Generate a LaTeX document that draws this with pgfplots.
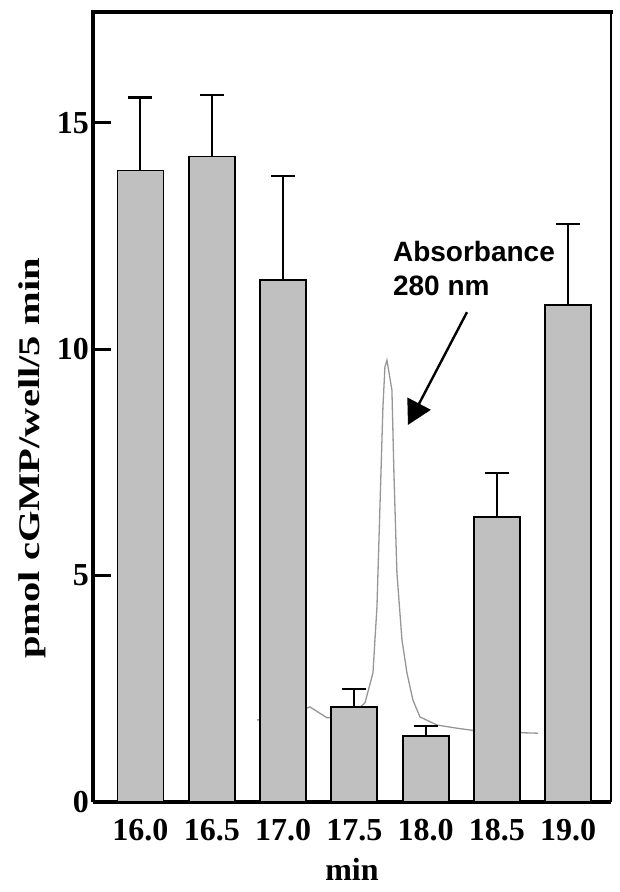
\documentclass[border=0pt]{standalone}
\usepackage{fontspec}
\setmainfont{Liberation Serif}
\newfontfamily\annotfont{Liberation Sans}
\usepackage{pgfplots}
\usepackage{pgfplotstable}
\pgfplotsset{compat=1.18}
\usetikzlibrary{arrows.meta}

\definecolor{barfill}{RGB}{192,192,192}
\definecolor{tracegray}{RGB}{150,150,150}

% cGMP per fraction (pos 0..6 = 16.0 .. 19.0 min), mean and upper error
\pgfplotstableread{
pos val  err
0   13.95 1.61
1   14.26 1.36
2   11.53 2.30
3   2.10  0.39
4   1.46  0.22
5   6.30  0.97
6   10.98 1.79
}\cgmpdata

% absorbance trace at 280 nm (arbitrary units on the same scale)
\pgfplotstableread{
x     y
1.634 1.81
2.000 1.90
2.377 2.10
2.616 1.86
2.940 1.90
3.149 2.19
3.261 2.85
3.317 4.31
3.359 6.52
3.401 8.73
3.429 9.61
3.457 9.76
3.527 9.10
3.555 7.27
3.597 5.06
3.668 3.58
3.738 2.85
3.822 2.25
3.920 1.88
4.159 1.70
4.439 1.63
4.719 1.57
5.100 1.54
5.575 1.52
}\absdata

\begin{document}
\begin{tikzpicture}
\begin{axis}[
  scale only axis,
  width=518pt, height=790pt,
  xmin=-0.666, xmax=6.6,
  ymin=0, ymax=17.45,
  clip=false,
  axis x line*=bottom, axis y line*=left,
  axis line style={line width=3.5pt, -},
  xtick={0,...,6},
  xticklabels={16.0,16.5,17.0,17.5,18.0,18.5,19.0},
  ytick={0,5,10,15},
  tick align=inside,
  major tick length=18pt,
  xtick style={draw=none},
  ytick style={line width=3pt, black},
  /pgf/number format/assume math mode=true,
  ticklabel style={font=\bfseries\fontsize{32}{32}\selectfont},
  yticklabel style={inner sep=1pt, xshift=-3pt},
  xticklabel style={inner sep=0pt, yshift=-17pt},
  xlabel={min},
  xlabel style={font=\bfseries\fontsize{32}{32}\selectfont, inner sep=0pt, yshift=-17pt},
  ylabel={\scalebox{1.35}[1]{pmol cGMP/well/5 min}},
  ylabel style={font=\bfseries\fontsize{30}{30}\selectfont,
    at={(axis description cs:-0.118,0.435)}, anchor=center, rotate=0},
]
  % trace drawn first so the bars cover it
  \addplot[tracegray, line width=1.3pt, no marks, sharp plot]
    table[x=x, y=y] {\absdata};

  \addplot[ybar, bar width=0.645, fill=barfill, draw=black, line width=1.8pt,
    error bars/.cd, y dir=plus, y explicit,
    error mark=|,
    error bar style={line width=2pt, black},
    error mark options={line width=2.2pt, mark size=12pt, black}]
    table[x=pos, y=val, y error=err] {\cgmpdata};

  % upper and right frame lines
  \draw[line width=3.5pt, line cap=rect] (rel axis cs:0,1) -- (rel axis cs:1,1);
  \draw[line width=1.5pt] (rel axis cs:1,1) -- (rel axis cs:1,0);

  \node[anchor=north west, inner sep=0pt, align=left,
        font=\annotfont\bfseries\fontsize{28}{34}\selectfont]
    at (axis cs:3.54,12.40) {Absorbance\\280 nm};
  \draw[line width=2.4pt, -{Triangle[length=24pt, width=26pt]}]
    (axis cs:4.58,10.82) -- (axis cs:3.752,8.33);

  \coordinate (origin) at (rel axis cs:0,0);
\end{axis}
\pgfresetboundingbox
\path (origin) ++(-93pt,-90pt) rectangle ++(619pt,892pt);
\end{tikzpicture}
\end{document}
